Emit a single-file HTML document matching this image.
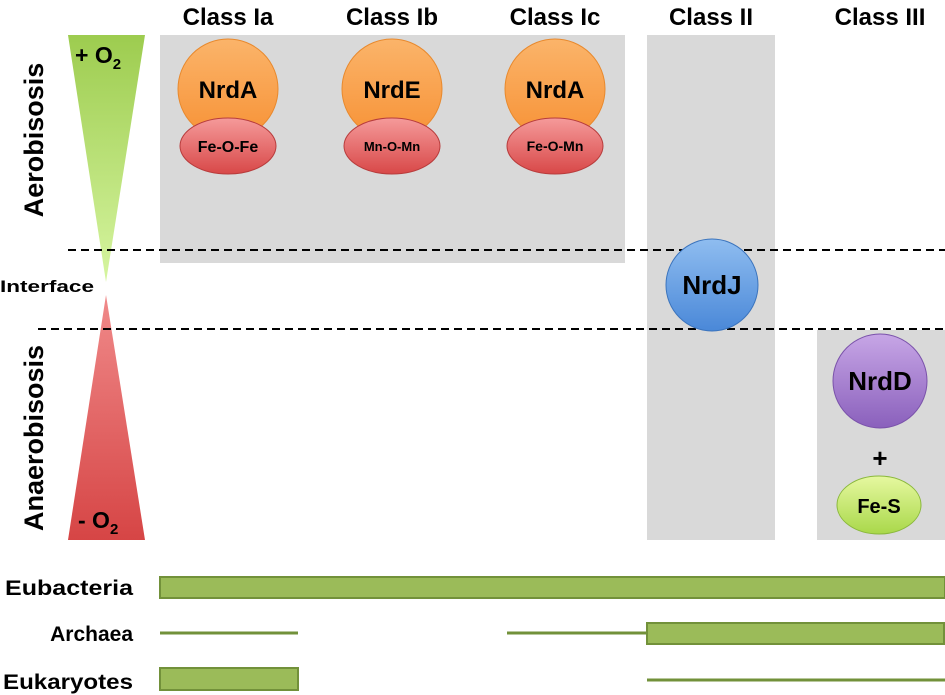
<!DOCTYPE html>
<html><head><meta charset="utf-8"><style>body{margin:0;background:#fff}svg{display:block}text{font-family:"Liberation Sans",sans-serif;font-weight:bold}</style></head>
<body>
<svg width="945" height="695" viewBox="0 0 945 695" xmlns="http://www.w3.org/2000/svg">
<defs>
<linearGradient id="gG" x1="0" y1="0" x2="0" y2="1"><stop offset="0" stop-color="#9dcc4f"/><stop offset="1" stop-color="#d6f5a0"/></linearGradient>
<linearGradient id="gR" x1="0" y1="0" x2="0" y2="1"><stop offset="0" stop-color="#f08a8a"/><stop offset="1" stop-color="#d64545"/></linearGradient>
<linearGradient id="gO" x1="0" y1="0" x2="0" y2="1"><stop offset="0" stop-color="#fbb46a"/><stop offset="1" stop-color="#f79236"/></linearGradient>
<linearGradient id="gE" x1="0" y1="0" x2="0" y2="1"><stop offset="0" stop-color="#f59a9a"/><stop offset="1" stop-color="#d84848"/></linearGradient>
<linearGradient id="gB" x1="0" y1="0" x2="0" y2="1"><stop offset="0" stop-color="#8fbdf0"/><stop offset="1" stop-color="#4a88d8"/></linearGradient>
<linearGradient id="gP" x1="0" y1="0" x2="0" y2="1"><stop offset="0" stop-color="#c7a6e6"/><stop offset="1" stop-color="#8a60bc"/></linearGradient>
<linearGradient id="gF" x1="0" y1="0" x2="0" y2="1"><stop offset="0" stop-color="#e6f8a0"/><stop offset="1" stop-color="#a9d84a"/></linearGradient>
</defs>
<rect x="160" y="35" width="465" height="228" fill="#d9d9d9"/>
<rect x="647" y="35" width="128" height="505" fill="#d9d9d9"/>
<rect x="817" y="330" width="128" height="210" fill="#d9d9d9"/>
<polygon points="68,35 145,35 106,282" fill="url(#gG)"/>
<polygon points="106,295 145,540 68,540" fill="url(#gR)"/>
<line x1="68" y1="250" x2="945" y2="250" stroke="#000" stroke-width="2" stroke-dasharray="8,5"/>
<line x1="38" y1="329" x2="945" y2="329" stroke="#000" stroke-width="2" stroke-dasharray="8,5"/>
<g font-size="24" text-anchor="middle">
<text x="228" y="25">Class Ia</text><text x="392" y="25">Class Ib</text><text x="555" y="25">Class Ic</text><text x="711" y="25">Class II</text><text x="880" y="25">Class III</text>
</g>
<text x="75" y="63" font-size="23">+ O<tspan font-size="15" dy="6">2</tspan></text>
<text x="78" y="528" font-size="23">- O<tspan font-size="15" dy="6">2</tspan></text>
<text transform="translate(43,140) rotate(-90)" font-size="27" text-anchor="middle">Aerobisosis</text>
<text transform="translate(43,438) rotate(-90)" font-size="27" text-anchor="middle">Anaerobisosis</text>
<text x="0" y="292" font-size="17" textLength="94" lengthAdjust="spacingAndGlyphs">Interface</text>
<g stroke-width="1">
<circle cx="228" cy="89" r="50" fill="url(#gO)" stroke="#e8892d"/>
<ellipse cx="228" cy="146" rx="48" ry="28" fill="url(#gE)" stroke="#b83c3c"/>
<circle cx="392" cy="89" r="50" fill="url(#gO)" stroke="#e8892d"/>
<ellipse cx="392" cy="146" rx="48" ry="28" fill="url(#gE)" stroke="#b83c3c"/>
<circle cx="555" cy="89" r="50" fill="url(#gO)" stroke="#e8892d"/>
<ellipse cx="555" cy="146" rx="48" ry="28" fill="url(#gE)" stroke="#b83c3c"/>
<circle cx="712" cy="285" r="46" fill="url(#gB)" stroke="#3b74bd"/>
<circle cx="880" cy="381" r="47" fill="url(#gP)" stroke="#7a52aa"/>
<ellipse cx="879" cy="505" rx="42" ry="29" fill="url(#gF)" stroke="#8ab83c"/>
</g>
<g text-anchor="middle">
<text x="228" y="98" font-size="24">NrdA</text><text x="392" y="98" font-size="24">NrdE</text><text x="555" y="98" font-size="24">NrdA</text>
<text x="228" y="152" font-size="16">Fe-O-Fe</text><text x="392" y="151" font-size="13">Mn-O-Mn</text><text x="555" y="151" font-size="14">Fe-O-Mn</text>
<text x="712" y="294" font-size="26">NrdJ</text><text x="880" y="390" font-size="26">NrdD</text>
<text x="880" y="467" font-size="26">+</text><text x="879" y="513" font-size="20">Fe-S</text>
</g>
<g font-size="21">
<text x="5" y="595" textLength="128" lengthAdjust="spacingAndGlyphs">Eubacteria</text>
<text x="133" y="641" text-anchor="end">Archaea</text>
<text x="3" y="689" textLength="130" lengthAdjust="spacingAndGlyphs">Eukaryotes</text>
</g>
<g fill="#9bbb59" stroke="#72913a" stroke-width="2">
<rect x="160" y="577" width="785" height="21"/>
<rect x="647" y="623" width="297" height="21"/>
<rect x="160" y="668" width="138" height="22"/>
</g>
<g stroke="#72913a" stroke-width="3">
<line x1="160" y1="633" x2="298" y2="633"/>
<line x1="507" y1="633" x2="647" y2="633"/>
<line x1="647" y1="680" x2="945" y2="680"/>
</g>
</svg>
</body></html>
